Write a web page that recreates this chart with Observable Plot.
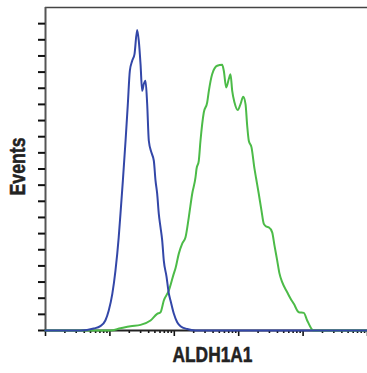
<!DOCTYPE html>
<html>
<head>
<meta charset="utf-8">
<script src="https://cdn.jsdelivr.net/npm/d3@7"></script>
<script src="https://cdn.jsdelivr.net/npm/@observablehq/plot@0.6"></script>
<style>
  html, body { margin: 0; padding: 0; background: #fff; }
</style>
</head>
<body>
<div id="chart"></div>
<script>
// Intensity (log x) and event counts for each histogram
const blueX = [1, 3.5, 5.6, 7.1, 8.5, 9.6, 10.9, 12.2, 13.7, 14.6, 15.9, 17.5, 19.0, 20.4, 22.2, 24.1, 26.5, 28.1, 29.9, 31.7, 33.6, 35.7, 37.9, 40.2, 44.3, 48.1, 51.1, 54.2, 57.4, 61.1, 64.9, 68.7, 75.7, 82.2, 87.3, 98.2, 110.9, 124.8, 158.5, 213, 100000];
const blueY = [0, 0, 1.2, 2.7, 6.2, 12.4, 22.7, 37.1, 57.7, 72.4, 92.8, 117.5, 140.4, 160.8, 167, 171.1, 186.1, 179.3, 164.9, 148.4, 152.6, 154.6, 140.4, 117.5, 110, 105.1, 92.8, 84.7, 72.4, 63.9, 55.7, 43.3, 33.4, 22.9, 18.6, 10.5, 5.1, 2.7, 0.9, 0, 0];

const greenX = [1, 10.2, 14.6, 20.9, 29.9, 42.7, 54.2, 61.1, 68.7, 82.2, 98.2, 104.4, 117.5, 132.7, 149.3, 167.9, 189.7, 213.4, 221.2, 240, 255, 287, 324, 344, 387, 463, 554, 587, 640, 702, 746, 793, 861, 968, 1067, 1175, 1276, 1355, 1435, 1581, 1758, 1857, 2052, 2259, 2455, 2703, 2933, 3311, 3597, 3963, 4304, 4736, 5662, 6370, 7175, 8579, 10260, 11580, 13490, 14260, 100000];
const greenY = [0, 0, 1.4, 2.7, 3.5, 6.2, 10.3, 11.3, 18.6, 24.7, 35.2, 38.5, 47.6, 53.8, 57.7, 70.1, 84.7, 94.8, 100, 105.1, 117.5, 135, 141.2, 148.4, 158.7, 163.9, 164.5, 160.8, 150.5, 155.7, 158.7, 148.4, 141.2, 136.5, 140.2, 144.7, 140.2, 126.8, 117.5, 113.4, 100.2, 94.6, 84.5, 74.2, 66, 64.3, 63.9, 60.8, 52.6, 43.3, 35.2, 29.9, 23.7, 19.8, 16.5, 11.3, 10.9, 6.2, 1.1, 0, 0];

const xMajorTicks = [1, 10, 100, 1000, 10000, 100000];
const xMinorTicks = [2, 3, 4, 5, 6, 7, 8, 9, 20, 30, 40, 50, 60, 70, 80, 90, 200, 300, 400, 500, 600, 700, 800, 900, 2000, 3000, 4000, 5000, 6000, 7000, 8000, 9000, 20000, 30000, 40000, 50000, 60000, 70000, 80000, 90000];
const yTicks = [0, 10, 20, 30, 40, 50, 60, 70, 80, 90, 100, 110, 120, 130, 140, 150, 160, 170, 180, 190];

const xLabel = "ALDH1A1";
const yLabel = "Events";

const blue = blueX.map((x, i) => ({x, y: blueY[i]}));
const green = greenX.map((x, i) => ({x, y: greenY[i]}));

const font = "'Liberation Sans', Arial, Helvetica, sans-serif";

const chart = Plot.plot({
  width: 367,
  height: 373,
  marginLeft: 45,
  marginRight: 0,
  marginTop: 7,
  marginBottom: 43,
  style: {background: "#fff", fontFamily: font},
  x: {type: "log", domain: [1, 100000]},
  y: {domain: [0, 200]},
  marks: [
    Plot.ruleY([200], {stroke: "#444", strokeWidth: 1.4}),
    Plot.ruleX([1], {stroke: "#555", strokeWidth: 2}),
    Plot.axisY({ticks: yTicks, tickSize: 7, strokeWidth: 2, stroke: "#111", fill: "none", label: null}),
    Plot.axisX({ticks: xMajorTicks, tickSize: 6, strokeWidth: 1.6, stroke: "#111", fill: "none", label: null}),
    Plot.axisX({ticks: xMinorTicks, tickSize: 3, strokeWidth: 1.6, stroke: "#111", fill: "none", label: null}),
    Plot.ruleY([0], {stroke: "#222", strokeWidth: 2}),
    Plot.line(green, {x: "x", y: "y", stroke: "#4cbb48", strokeWidth: 2, curve: "monotone-x"}),
    Plot.line(blue, {x: "x", y: "y", stroke: "#3347a8", strokeWidth: 2, curve: "monotone-x"}),
    Plot.text([yLabel], {frameAnchor: "left", text: d => d, rotate: -90, textAnchor: "middle", lineAnchor: "middle", dx: -27.5, dy: -2.5, fontSize: 21.5, fontWeight: "bold", fill: "#222", stroke: "#222", strokeWidth: 0.5, fontFamily: font}),
    Plot.text([xLabel], {frameAnchor: "bottom", text: d => d, textAnchor: "middle", lineAnchor: "middle", dx: 6, dy: 25, fontSize: 21.5, fontWeight: "bold", fill: "#222", stroke: "#222", strokeWidth: 0.5, fontFamily: font})
  ]
});
// condense the bold labels to match the narrow typeface of the original
d3.select(chart).selectAll("text").each(function() {
  const t = this.textContent;
  if (t === xLabel) { this.setAttribute("textLength", 80); this.setAttribute("lengthAdjust", "spacingAndGlyphs"); }
  if (t === yLabel) { this.setAttribute("textLength", 58); this.setAttribute("lengthAdjust", "spacingAndGlyphs"); }
});
document.getElementById("chart").appendChild(chart);
</script>
</body>
</html>
